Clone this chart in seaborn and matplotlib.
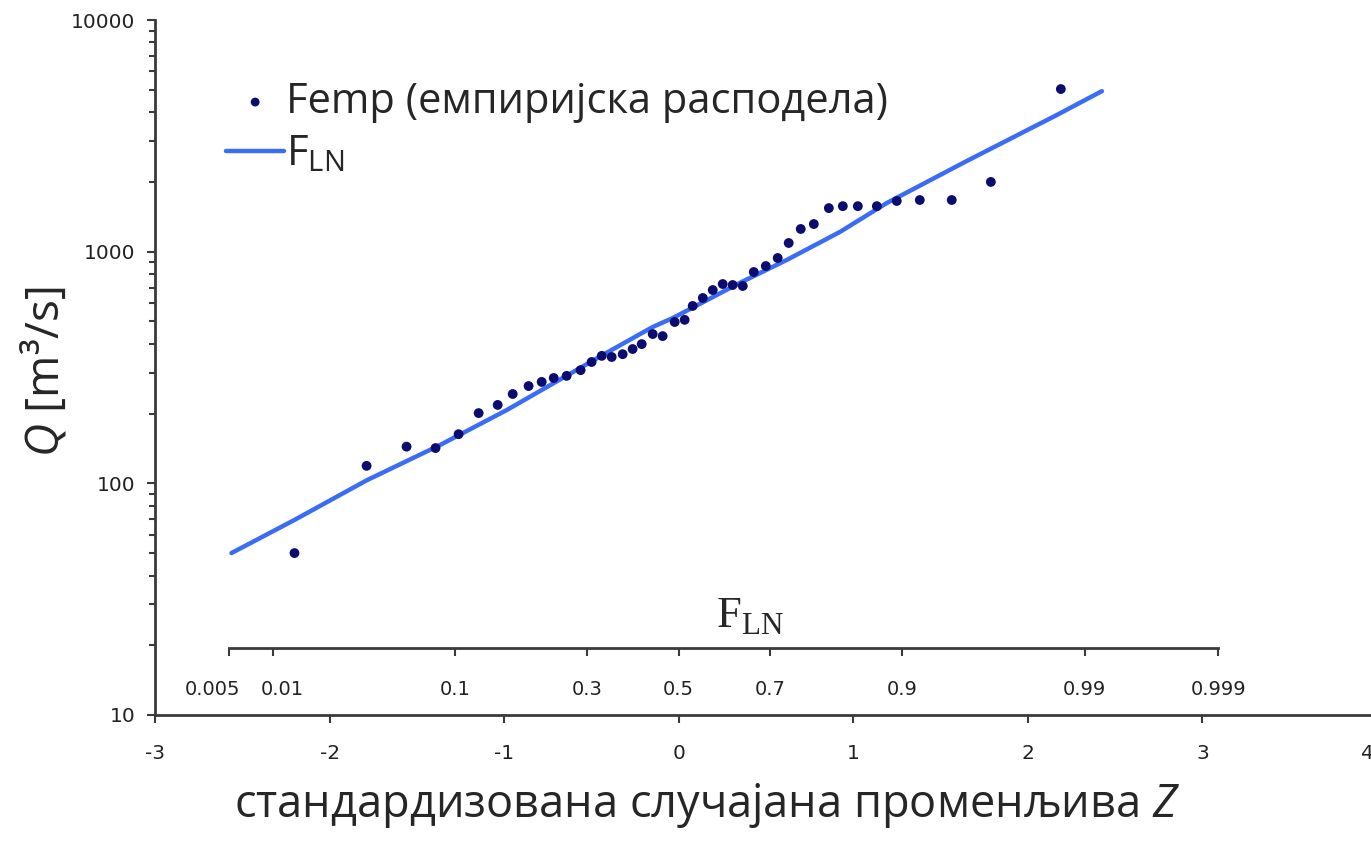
import matplotlib
matplotlib.use("Agg")
import matplotlib.pyplot as plt
import matplotlib.transforms as mtransforms
import seaborn as sns
from matplotlib.ticker import NullFormatter, LogLocator
from statistics import NormalDist

# ---------------- data ----------------
z_emp = [-2.201, -1.788, -1.559, -1.393, -1.261, -1.146, -1.037, -0.951, -0.860, -0.785,
         -0.716, -0.642, -0.562, -0.499, -0.441, -0.384, -0.321, -0.264, -0.212, -0.149,
         -0.092, -0.023, 0.034, 0.080, 0.138, 0.195, 0.252, 0.309, 0.367, 0.430,
         0.499, 0.567, 0.630, 0.699, 0.774, 0.860, 0.940, 1.026, 1.135, 1.249,
         1.381, 1.564, 1.788, 2.189]
q_emp = [50, 119, 144, 142, 163, 201, 218, 243, 263, 274,
         285, 291, 308, 334, 355, 351, 361, 380, 399, 441,
         432, 497, 508, 583, 631, 683, 725, 718, 711, 817,
         867, 939, 1090, 1253, 1316, 1542, 1572, 1572, 1572, 1655,
         1671, 1671, 2000, 5035]

z_fit = [-2.562, -2.201, -1.788, -1.370, -0.986, -0.413, -0.149, -0.034, 0.350,
         0.619, 0.923, 1.192, 1.650, 2.166, 2.424]
q_fit = [50, 69.5, 103, 146, 207, 366, 473, 517, 733,
         921, 1216, 1622, 2462, 3890, 4930]

y_ticks = [10, 100, 1000, 10000]
x_ticks = [-3, -2, -1, 0, 1, 2, 3, 4]
prob_ticks = [0.005, 0.01, 0.1, 0.3, 0.5, 0.7, 0.9, 0.99, 0.999]
prob_labels = ["0.005", "0.01", "0.1", "0.3", "0.5", "0.7", "0.9", "0.99", "0.999"]

label_emp = "Femp (емпиријска расподела)"
label_fit = r"$\mathsf{F}_{\mathsf{LN}}$"
x_label = "стандардизована случајана променљива $\\mathit{Z}$"
y_label = "$\\mathit{Q}$ [m³/s]"
sec_label = r"$\mathrm{F}_{\mathrm{LN}}$"

# ---------------- style ----------------
sns.set_style("ticks")
plt.rcParams["font.family"] = ["Open Sans", "DejaVu Sans"]
plt.rcParams["axes.unicode_minus"] = False
plt.rcParams["mathtext.fontset"] = "custom"
plt.rcParams["mathtext.rm"] = "Liberation Serif"
plt.rcParams["mathtext.sf"] = "Open Sans"
plt.rcParams["mathtext.it"] = "Open Sans:italic"

W, H = 1371, 843
pt_color = "#0c0c70"
line_color = "#3a6cf5"
axis_color = "#3a3a3a"
tick_color = "#222222"
tick_font = ["DejaVu Sans"]
tick_size = 14.5

fig = plt.figure(figsize=(W / 100, H / 100), dpi=100)
ax = fig.add_axes([155 / W, 1 - 715 / H, (1377 - 155) / W, (715 - 20) / H])

sns.lineplot(x=z_fit, y=q_fit, ax=ax, color=line_color, linewidth=3.2,
             label=label_fit, zorder=2, sort=False)
sns.scatterplot(x=z_emp, y=q_emp, ax=ax, color=pt_color, s=50, edgecolor="none",
                label=label_emp, zorder=3)

ax.set_yscale("log")
ax.set_ylim(10, 10000)
ax.set_xlim(-3, 4)
ax.set_yticks(y_ticks)
ax.set_yticklabels([str(v) for v in y_ticks])
ax.yaxis.set_minor_locator(LogLocator(base=10, subs=range(2, 10)))
ax.yaxis.set_minor_formatter(NullFormatter())
ax.set_xticks(x_ticks)
ax.set_xticklabels([str(v) for v in x_ticks])
ax.set_xlabel("")
ax.set_ylabel("")

for s in ["top", "right"]:
    ax.spines[s].set_visible(False)
for s in ["left", "bottom"]:
    ax.spines[s].set_color(axis_color)
    ax.spines[s].set_linewidth(2)

ax.tick_params(axis="y", which="major", direction="out", length=6, width=1.5,
               color=axis_color, pad=8, labelsize=tick_size, labelcolor=tick_color)
ax.tick_params(axis="y", which="minor", direction="out", length=4, width=1.5,
               color=axis_color)
ax.tick_params(axis="x", which="major", direction="out", length=6, width=1.5,
               color=axis_color, pad=15, labelsize=tick_size, labelcolor=tick_color)
for lab in ax.get_xticklabels() + ax.get_yticklabels():
    lab.set_family(tick_font)

# the last x label ("4") sits on the figure edge: nudge it inside
xlabs = ax.get_xticklabels()
xlabs[-1].set_transform(xlabs[-1].get_transform() +
                        mtransforms.ScaledTranslation(-10 / 100, 0, fig.dpi_scale_trans))

# legend
h, l = ax.get_legend_handles_labels()
order = [l.index(label_emp), l.index(label_fit)]
leg = ax.legend([h[i] for i in order], [l[i] for i in order], loc="upper left",
                bbox_to_anchor=(226 / W, 1 - 81 / H), bbox_transform=fig.transFigure,
                frameon=False, borderpad=0, borderaxespad=0, handlelength=1.4,
                handletextpad=0.05, labelspacing=0.25, fontsize=30, markerscale=0.9)

# secondary probability axis
zq = [NormalDist().inv_cdf(p) for p in prob_ticks]
ax2 = fig.add_axes([155 / W, 1 - 648 / H, (1377 - 155) / W, 0.001])
ax2.set_xlim(-3, 4)
ax2.patch.set_visible(False)
for s in ["top", "left", "right"]:
    ax2.spines[s].set_visible(False)
ax2.spines["bottom"].set_bounds(zq[0], zq[-1])
ax2.spines["bottom"].set_color(axis_color)
ax2.spines["bottom"].set_linewidth(2)
ax2.set_yticks([])
ax2.set_xticks(zq)
ax2.set_xticklabels(prob_labels)
ax2.tick_params(axis="x", direction="out", length=6, width=1.5, color=axis_color,
                pad=17, labelsize=tick_size - 0.5, labelcolor=tick_color)
plabs = ax2.get_xticklabels()
for lab in plabs:
    lab.set_family(tick_font)
for idx, dx in [(0, -17), (1, 10)]:
    plabs[idx].set_transform(plabs[idx].get_transform() +
                             mtransforms.ScaledTranslation(dx / 100, 0, fig.dpi_scale_trans))

fig.text(750 / W, 1 - 617 / H, sec_label, fontsize=32, ha="center", va="center")

# axis titles
fig.text(707 / W, 1 - 806 / H, x_label, fontsize=32.5, ha="center", va="center")
fig.text(45 / W, 1 - 372 / H, y_label, fontsize=33, ha="center", va="center",
         rotation=90)

fig.savefig("out.png", dpi=100)
